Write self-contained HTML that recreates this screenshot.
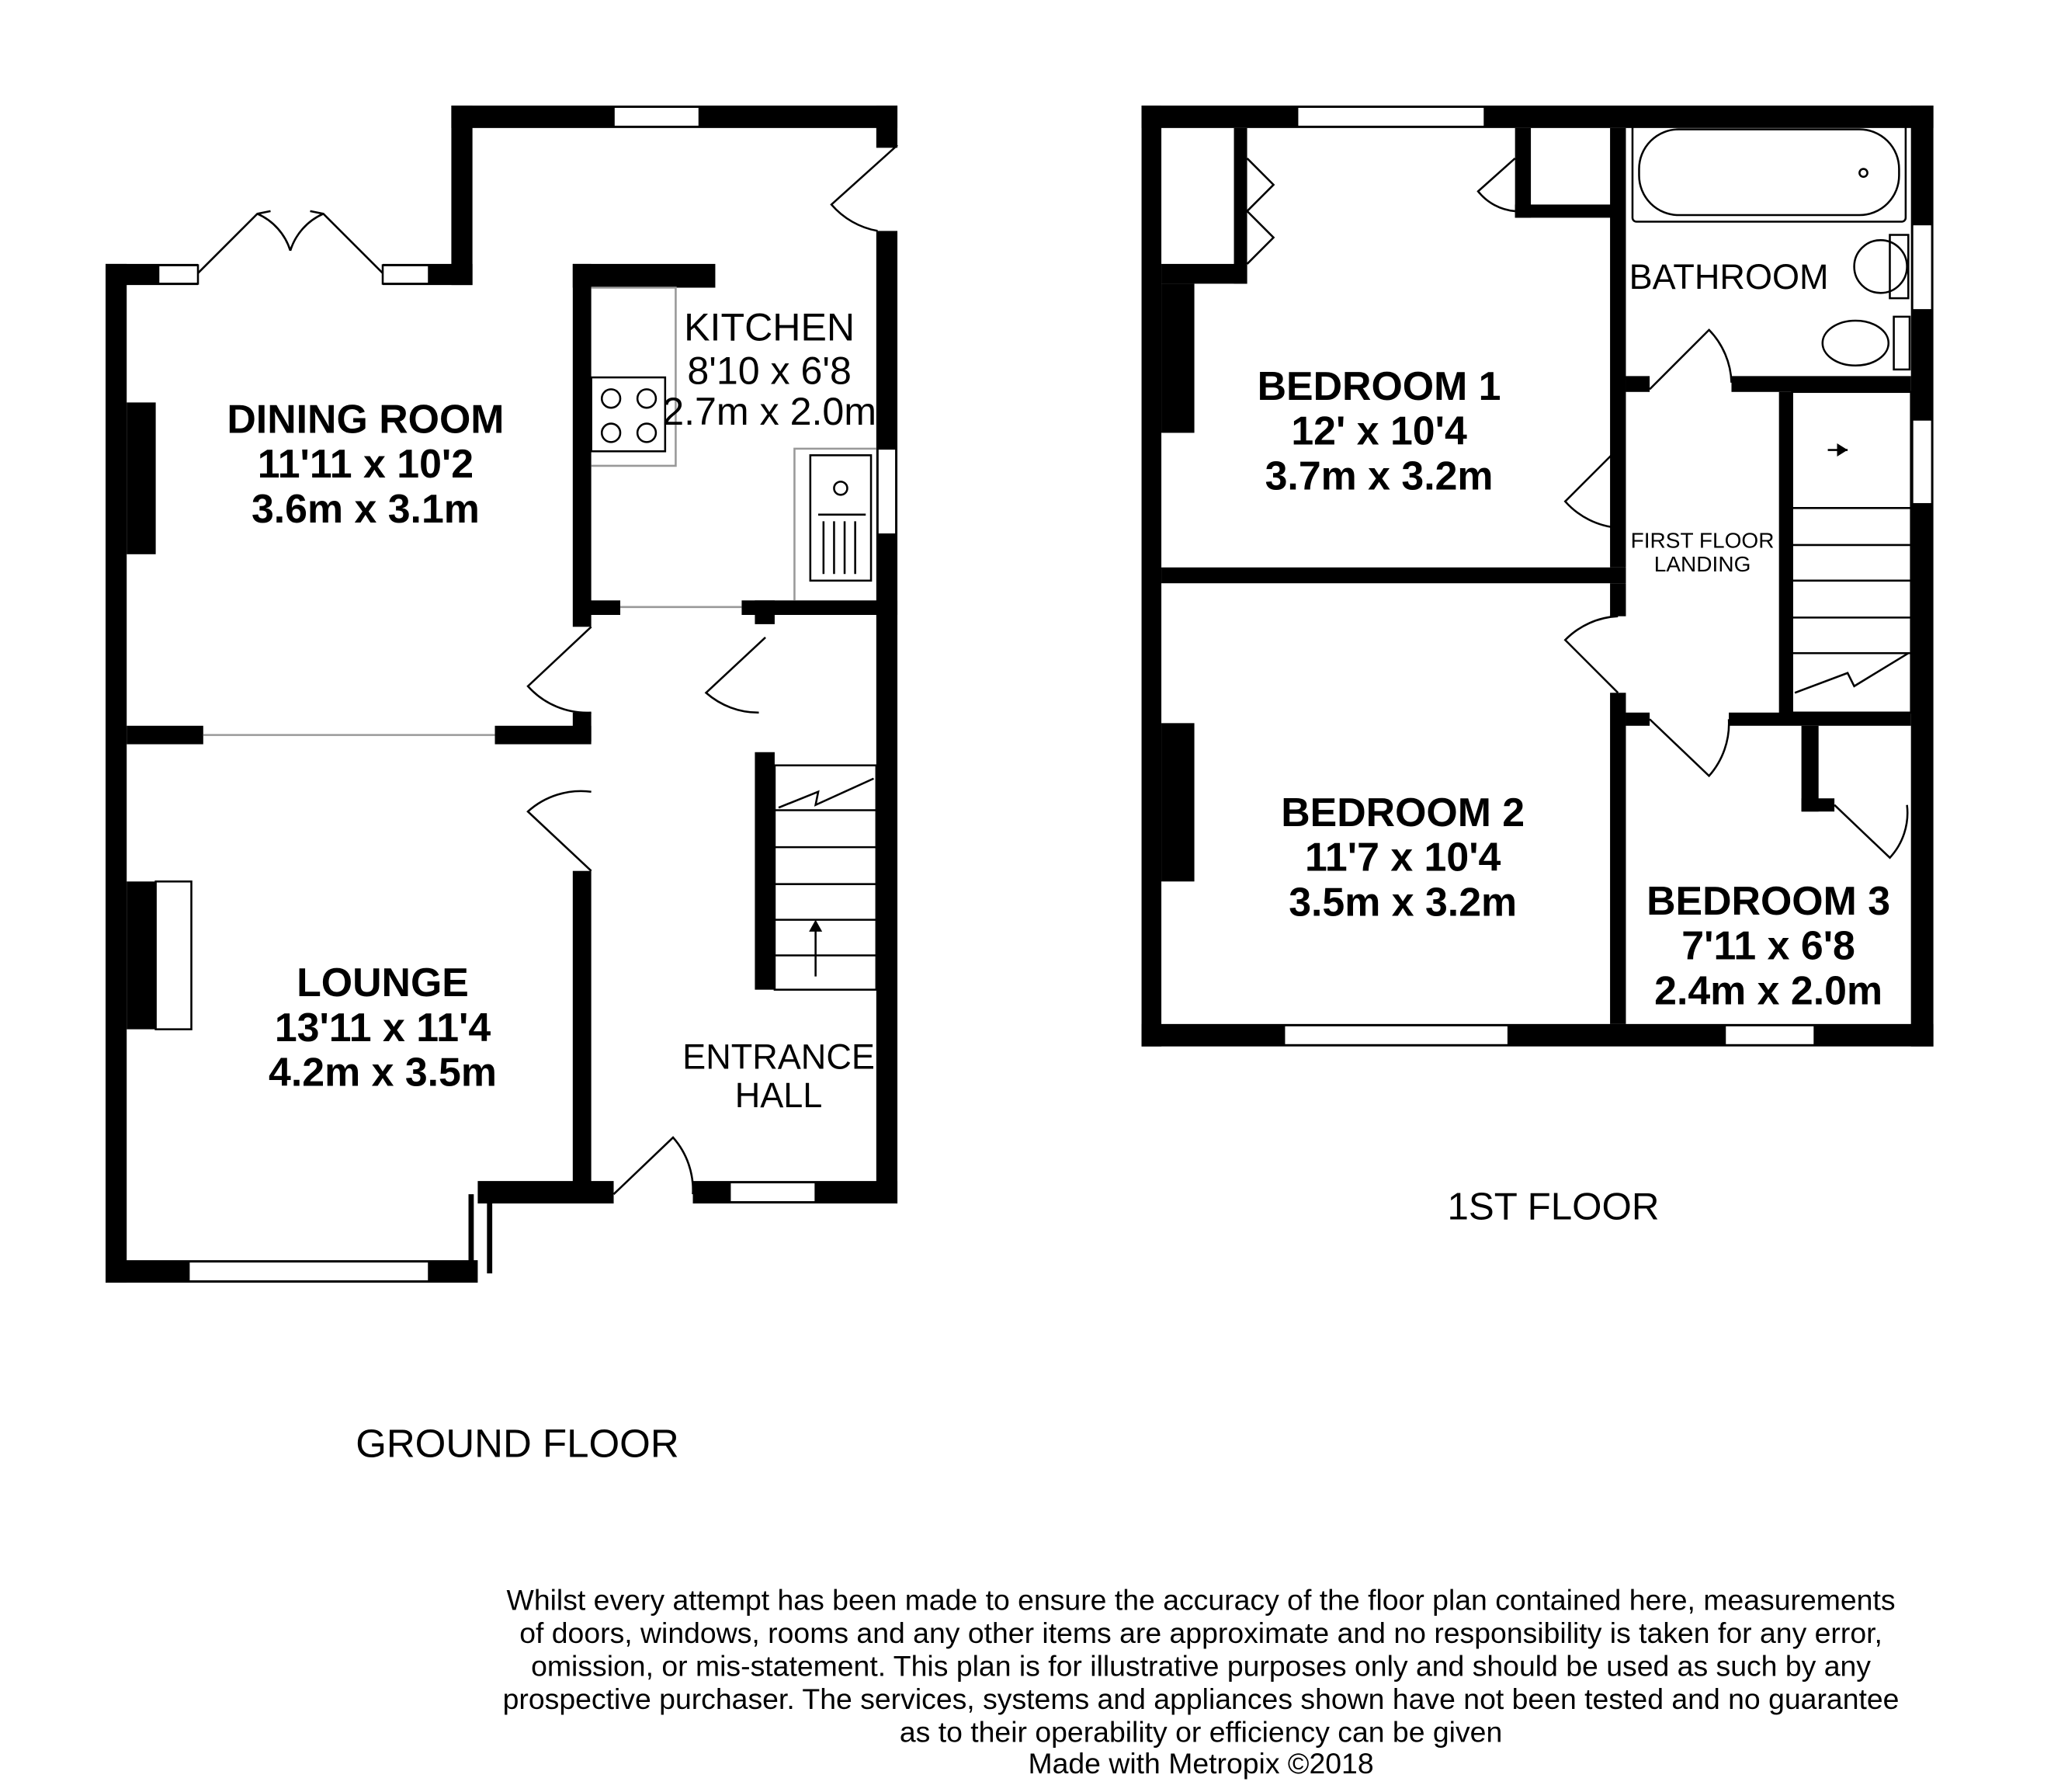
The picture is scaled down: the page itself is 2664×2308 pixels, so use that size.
<!DOCTYPE html>
<html><head><meta charset="utf-8"><style>
html,body{margin:0;padding:0;background:#fff}
svg{display:block}
text{font-family:"Liberation Sans",sans-serif;fill:#000}
.b{font-weight:bold}
</style></head><body>
<svg width="2664" height="2308" viewBox="0 0 1567 1358" preserveAspectRatio="none" xmlns="http://www.w3.org/2000/svg">
<g fill="#000">
<rect x="342" y="80" width="338" height="17"/>
<rect x="342" y="80" width="16" height="136"/>
<rect x="664" y="80" width="16" height="32"/>
<rect x="664" y="175" width="16" height="737"/>
<rect x="80" y="200" width="70" height="16"/>
<rect x="290" y="200" width="68" height="16"/>
<rect x="80" y="200" width="16" height="772"/>
<rect x="96" y="305" width="22" height="115"/>
<rect x="96" y="668" width="22" height="112"/>
<rect x="434" y="200" width="108" height="18"/>
<rect x="434" y="200" width="14" height="275"/>
<rect x="434" y="540" width="14" height="22"/>
<rect x="434" y="660" width="14" height="236"/>
<rect x="96" y="550" width="58" height="14"/>
<rect x="375" y="550" width="73" height="14"/>
<rect x="80" y="955" width="282" height="17"/>
<rect x="362" y="895" width="103" height="17"/>
<rect x="355" y="905" width="4" height="60"/>
<rect x="369" y="905" width="4" height="60"/>
<rect x="525" y="895" width="155" height="17"/>
<rect x="445" y="455" width="25" height="11"/>
<rect x="562" y="455" width="118" height="11"/>
<rect x="572" y="455" width="15" height="18"/>
<rect x="572" y="570" width="15" height="180"/>
<rect x="865" y="80" width="600" height="17"/>
<rect x="865" y="80" width="15" height="713"/>
<rect x="1448" y="80" width="17" height="713"/>
<rect x="865" y="776" width="600" height="17"/>
<rect x="935" y="97" width="10" height="118"/>
<rect x="880" y="200" width="65" height="15"/>
<rect x="880" y="215" width="25" height="113"/>
<rect x="880" y="548" width="25" height="120"/>
<rect x="1148" y="97" width="12" height="68"/>
<rect x="1148" y="155" width="77" height="10"/>
<rect x="1220" y="97" width="12" height="333"/>
<rect x="880" y="430" width="352" height="12"/>
<rect x="1220" y="442" width="12" height="25"/>
<rect x="1220" y="525" width="12" height="251"/>
<rect x="1232" y="285" width="18" height="12"/>
<rect x="1312" y="285" width="136" height="12"/>
<rect x="1348" y="297" width="10" height="245"/>
<rect x="1232" y="540" width="18" height="10"/>
<rect x="1310" y="540" width="138" height="10"/>
<rect x="1365" y="550" width="13" height="65"/>
<rect x="1365" y="605" width="25" height="10"/>
</g>
<g fill="#fff" stroke="#000" stroke-width="1.5">
<rect x="465" y="81" width="65" height="15"/>
<rect x="665" y="340" width="14" height="65"/>
<rect x="120" y="201" width="30" height="14"/>
<rect x="290" y="201" width="35" height="14"/>
<rect x="143" y="956" width="182" height="15"/>
<rect x="553" y="896" width="65" height="15"/>
<rect x="983" y="81" width="142" height="15"/>
<rect x="1449" y="170" width="15" height="65"/>
<rect x="1449" y="318" width="15" height="64"/>
<rect x="973" y="777" width="170" height="15"/>
<rect x="1307" y="777" width="68" height="15"/>
<rect x="118" y="668" width="27" height="112"/>
</g>
<g fill="none" stroke="#000" stroke-width="1.5">
<line x1="154" y1="557" x2="375" y2="557" stroke="#999"/>
<line x1="470" y1="460" x2="562" y2="460" stroke="#999"/>
<polyline points="448,218 512,218 512,353 448,353" stroke="#999"/>
<rect x="448" y="286" width="56" height="56"/>
<circle cx="463" cy="302" r="7"/><circle cx="490" cy="302" r="7"/>
<circle cx="463" cy="328" r="7"/><circle cx="490" cy="328" r="7"/>
<polyline points="664,340 602,340 602,455" stroke="#999"/>
<rect x="614" y="345" width="46" height="95"/>
<circle cx="637" cy="370" r="5"/>
<line x1="620" y1="390" x2="656" y2="390"/>
<line x1="624" y1="395" x2="624" y2="435"/><line x1="632" y1="395" x2="632" y2="435"/>
<line x1="640" y1="395" x2="640" y2="435"/><line x1="648" y1="395" x2="648" y2="435"/>
<rect x="587" y="580" width="77" height="170"/>
<line x1="587" y1="614" x2="664" y2="614"/><line x1="587" y1="642" x2="664" y2="642"/>
<line x1="587" y1="670" x2="664" y2="670"/><line x1="587" y1="697" x2="664" y2="697"/>
<line x1="587" y1="724" x2="664" y2="724"/>
<polyline points="590,612 620,600 618,610 662,590"/>
<line x1="618" y1="740" x2="618" y2="700"/>
<path d="M448,475 L400,520 A60,60 0 0 0 448,540"/>
<path d="M448,660 L400,615 A60,60 0 0 1 448,600"/>
<path d="M580,483 L535,525 A60,60 0 0 0 575,540"/>
<path d="M465,905 L510,862 A60,60 0 0 1 525,905"/>
<path d="M680,110 L630,155 A60,60 0 0 0 665,175"/>
<path d="M150,207 L195,162 L205,160 M290,207 L245,162 L235,160"/>
<path d="M195,162 A45,45 0 0 1 220,190 M245,162 A45,45 0 0 0 220,190"/>
<rect x="1237" y="93" width="207" height="75" rx="3"/>
<rect x="1242" y="98" width="197" height="65" rx="30"/>
<circle cx="1412" cy="131" r="3"/>
<rect x="1432" y="178" width="14" height="48"/>
<circle cx="1425" cy="202" r="20"/>
<rect x="1435" y="240" width="12" height="40"/>
<ellipse cx="1406" cy="260" rx="25" ry="17"/>
<rect x="1358" y="297" width="90" height="243"/>
<line x1="1358" y1="385" x2="1448" y2="385"/><line x1="1358" y1="413" x2="1448" y2="413"/>
<line x1="1358" y1="440" x2="1448" y2="440"/><line x1="1358" y1="468" x2="1448" y2="468"/>
<line x1="1358" y1="495" x2="1448" y2="495"/>
<polyline points="1360,525 1400,510 1405,520 1446,495"/>
<line x1="1385" y1="341" x2="1400" y2="341"/>
<path d="M1250,295 L1295,250 A60,60 0 0 1 1312,290"/>
<path d="M1226,340 L1186,380 A60,60 0 0 0 1226,400"/>
<path d="M1226,525 L1186,485 A60,60 0 0 1 1226,467"/>
<path d="M1250,545 L1295,588 A60,60 0 0 0 1310,545"/>
<path d="M1390,610 L1432,650 A50,50 0 0 0 1445,610"/>
<path d="M1148,120 L1120,145 A40,40 0 0 0 1148,160"/>
<path d="M945,120 L965,140 L945,160 L965,180 L945,200"/>
</g>
<polygon points="1400,341 1392,336 1392,346" fill="#000"/>
<polygon points="618,697 613,706 623,706" fill="#000"/>
<g text-anchor="middle">
<text x="583" y="258" font-size="29.5">KITCHEN</text>
<text x="583" y="291" font-size="29.5">8'10 x 6'8</text>
<text x="583" y="322" font-size="29.5">2.7m x 2.0m</text>
<text class="b" x="277" y="328" font-size="30.5">DINING ROOM</text>
<text class="b" x="277" y="362" font-size="30.5">11'11 x 10'2</text>
<text class="b" x="277" y="396" font-size="30.5">3.6m x 3.1m</text>
<text class="b" x="290" y="755" font-size="30.5">LOUNGE</text>
<text class="b" x="290" y="789" font-size="30.5">13'11 x 11'4</text>
<text class="b" x="290" y="823" font-size="30.5">4.2m x 3.5m</text>
<text x="590" y="810" font-size="26.5">ENTRANCE</text>
<text x="590" y="839" font-size="26.5">HALL</text>
<text x="392" y="1104" font-size="30">GROUND FLOOR</text>
<text class="b" x="1045" y="303" font-size="30.5">BEDROOM 1</text>
<text class="b" x="1045" y="337" font-size="30.5">12' x 10'4</text>
<text class="b" x="1045" y="371" font-size="30.5">3.7m x 3.2m</text>
<text x="1310" y="219" font-size="26.5">BATHROOM</text>
<text x="1290" y="415" font-size="16.5">FIRST FLOOR</text>
<text x="1290" y="433" font-size="16.5">LANDING</text>
<text class="b" x="1063" y="626" font-size="30.5">BEDROOM 2</text>
<text class="b" x="1063" y="660" font-size="30.5">11'7 x 10'4</text>
<text class="b" x="1063" y="694" font-size="30.5">3.5m x 3.2m</text>
<text class="b" x="1340" y="693" font-size="30.5">BEDROOM 3</text>
<text class="b" x="1340" y="727" font-size="30.5">7'11 x 6'8</text>
<text class="b" x="1340" y="761" font-size="30.5">2.4m x 2.0m</text>
<text x="1177" y="924" font-size="29">1ST FLOOR</text>
<g font-size="22">
<text x="910" y="1220">Whilst every attempt has been made to ensure the accuracy of the floor plan contained here, measurements</text>
<text x="910" y="1245">of doors, windows, rooms and any other items are approximate and no responsibility is taken for any error,</text>
<text x="910" y="1270">omission, or mis-statement. This plan is for illustrative purposes only and should be used as such by any</text>
<text x="910" y="1295">prospective purchaser. The services, systems and appliances shown have not been tested and no guarantee</text>
<text x="910" y="1320">as to their operability or efficiency can be given</text>
<text x="910" y="1344">Made with Metropix ©2018</text>
</g>
</g>
</svg>
</body></html>
